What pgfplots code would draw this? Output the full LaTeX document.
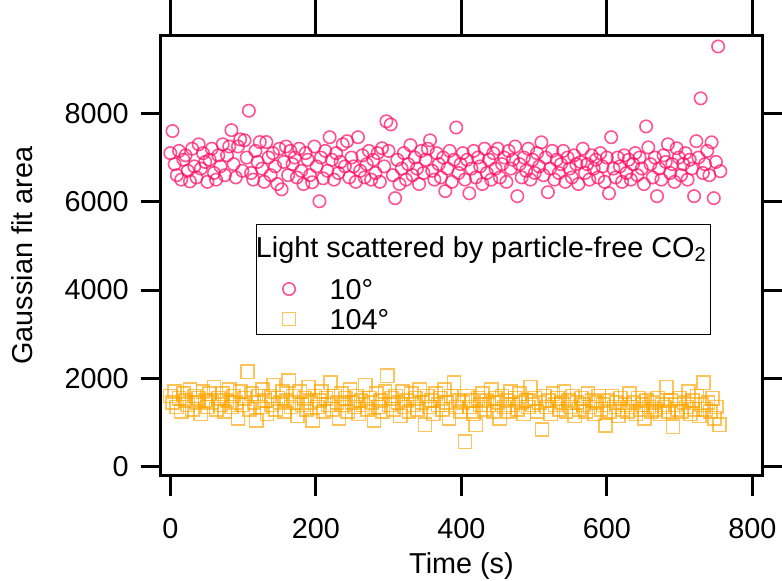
\documentclass[border=0pt]{standalone}
\usepackage{pgfplots}
\pgfplotsset{compat=1.18}
\usepackage{fontspec}
\setmainfont{Liberation Sans}
\definecolor{pinkc}{RGB}{255,10,100}
\definecolor{orangec}{RGB}{255,165,0}
\begin{document}
\fontsize{14.4}{17}\selectfont
\begin{tikzpicture}
\pgfplotsset{
  base/.style={
    scale only axis, width=300.8pt, height=220.3pt,
    at={(0,0)}, anchor=south west,
    xmin=-13.2, xmax=813.7, ymin=-210, ymax=9766,
    xtick={0,200,400,600,800}, ytick={0,2000,4000,6000,8000},
    tick align=outside,
    tick style={line width=1.5pt, black},
    axis line style={line width=1.5pt, line cap=rect},
    /pgf/number format/assume math mode=true,
    /pgf/number format/1000 sep={},
  },
  myleg/.style={legend image code/.code={%
    \draw[##1] plot coordinates {(0pt,0pt)};
    \path (-13pt,0pt) (18pt,0pt);}},
}
\begin{axis}[base,
  xtick pos=top, ytick pos=right, major tick length=20pt,
  xticklabels={}, yticklabels={}]
\end{axis}
\begin{axis}[base,
  xtick pos=bottom, ytick pos=left, major tick length=10pt,
  xticklabel style={yshift=-6pt},
  yticklabel style={xshift=-1pt},
  xlabel={Time (s)}, ylabel={Gaussian fit area},
  xlabel style={at={(axis description cs:0.5,-0.2202)}, anchor=base},
  ylabel style={at={(axis description cs:-0.2304,0.5)}, anchor=center},
  legend style={at={(0.1585,0.5718)}, anchor=north west, draw=black,
    line width=0.5pt, row sep=4.5pt, inner ysep=2.5pt,
    nodes={inner ysep=0pt, text depth=0pt, text height=10.5pt}},
  legend cell align=left,
]
\addlegendimage{empty legend}
\addlegendentry[text height=14pt, text depth=6pt]{\hspace{-36.8pt}Light scattered by particle-free CO\textsubscript{2}\kern-3pt}
\addplot[only marks, mark=o, mark size=3.1pt, draw=pinkc, draw opacity=0.7,
  mark options={line width=0.8pt}, myleg] coordinates {
(0,7100) (3,7600) (6,6850) (9,6600) (12,7150) (15,6500) (18,6950) (21,7050) (24,6700) (27,6460)
(30,7200) (33,6800) (36,6550) (39,7300) (42,6750) (45,7100) (48,6900) (51,6450) (54,6950) (57,7200)
(60,6650) (63,6500) (66,7050) (69,6800) (72,7300) (75,6600) (78,7050) (81,7250) (84,7620) (87,6850)
(90,6550) (93,7250) (96,7410) (99,6700) (102,7390) (105,7000) (108,8060) (111,6650) (114,6500) (117,7150)
(120,6900) (123,7350) (126,6750) (129,6450) (132,7350) (135,7000) (138,6600) (141,7100) (144,6800) (147,6400)
(150,7200) (153,6280) (156,6900) (159,7250) (162,6600) (165,7150) (168,6850) (171,7000) (174,6550) (177,7200)
(180,6700) (183,6400) (186,7100) (189,6950) (192,6600) (195,6440) (198,7250) (201,6800) (205,6010) (207,7000)
(210,6530) (213,7150) (216,6700) (219,7460) (222,6950) (225,6500) (228,7100) (231,6650) (234,6900) (237,7300)
(240,6800) (243,7370) (246,6550) (249,7000) (252,6800) (255,6450) (258,7460) (261,6700) (264,7050) (267,6550)
(270,6850) (273,7150) (276,6500) (279,6950) (282,6650) (285,7100) (288,6450) (291,7210) (294,6800) (297,7820)
(300,7150) (303,7750) (306,6600) (309,6080) (312,6950) (315,6400) (318,6750) (321,7100) (324,6500) (327,6850)
(330,7280) (333,6600) (336,7000) (339,6750) (342,6400) (345,7150) (348,6650) (351,6950) (354,7200) (357,7390)
(360,6700) (363,6500) (366,7100) (369,6850) (372,6550) (375,7000) (378,6240) (381,6750) (384,7150) (387,6450)
(390,6950) (393,7680) (396,6650) (399,6850) (402,7100) (405,6500) (408,6950) (411,6190) (414,6750) (417,7150)
(420,6550) (423,7000) (426,6800) (429,6400) (432,7200) (435,6650) (438,6950) (441,6500) (444,7100) (447,6750)
(450,7200) (453,6550) (456,6850) (459,7000) (462,6450) (465,7150) (468,6750) (471,6950) (474,7250) (477,6125)
(480,6850) (483,6550) (486,7000) (489,6700) (492,7200) (495,6500) (498,6950) (501,6650) (504,7100) (507,6800)
(510,7345) (513,6600) (516,7000) (519,6215) (522,6750) (525,7150) (528,6500) (531,6950) (534,6650) (537,6850)
(540,7150) (543,6450) (546,7000) (549,6750) (552,6550) (555,7050) (558,6850) (561,6400) (564,6900) (567,7200)
(570,6650) (573,6850) (576,6500) (579,7050) (582,6750) (585,6950) (588,6550) (591,7100) (594,6800) (597,6450)
(600,7000) (603,6190) (606,7460) (609,6750) (612,6550) (615,7000) (618,6800) (621,6450) (624,7050) (627,6650)
(630,6950) (633,6500) (636,6850) (639,7100) (642,6600) (645,7000) (648,6750) (651,6400) (654,7705) (657,7230)
(660,6850) (663,6550) (666,7000) (669,6125) (672,6750) (675,6500) (678,7050) (681,6900) (684,7300) (687,6650)
(690,6850) (693,6450) (696,7210) (699,7000) (702,6600) (705,6850) (708,7100) (711,6500) (714,6950) (717,6750)
(720,6125) (723,7370) (726,7000) (729,8340) (732,6650) (735,6850) (738,7150) (741,6600) (744,7345) (747,6080)
(750,6900) (753,9515) (756,6690)
};
\addlegendentry{10°}
\addplot[only marks, mark=square, mark size=3.3pt, draw=orangec, draw opacity=0.65,
  mark options={line width=0.8pt}, myleg] coordinates {
(0,1600) (3,1450) (6,1700) (9,1350) (12,1550) (15,1250) (18,1650) (21,1500) (24,1400) (27,1750)
(30,1300) (33,1600) (36,1450) (39,1550) (42,1200) (45,1700) (48,1500) (51,1350) (54,1650) (57,1450)
(60,1800) (63,1300) (66,1550) (69,1400) (72,1650) (75,1250) (78,1500) (81,1750) (84,1350) (87,1600)
(90,1450) (93,1100) (96,1700) (99,1400) (102,1550) (106,2150) (109,1300) (112,1650) (115,1450) (118,1050)
(121,1600) (124,1350) (127,1750) (130,1500) (133,1200) (136,1600) (139,1400) (142,1850) (145,1300) (148,1550)
(151,1450) (154,1700) (157,1250) (160,1500) (163,1950) (166,1350) (169,1600) (172,1450) (175,1150) (178,1700)
(181,1400) (184,1550) (187,1300) (190,1800) (193,1450) (196,1050) (199,1600) (202,1350) (205,1500) (208,1700)
(211,1250) (214,1550) (217,1400) (220,1900) (223,1300) (226,1600) (229,1450) (232,1100) (235,1650) (238,1400)
(241,1550) (244,1250) (247,1750) (250,1450) (253,1350) (256,1600) (259,1200) (262,1500) (265,1400) (268,1850)
(271,1300) (274,1550) (277,1450) (280,1050) (283,1650) (286,1350) (289,1500) (292,1250) (295,1700) (298,2060)
(301,1400) (304,1550) (307,1300) (310,1600) (313,1450) (316,1150) (319,1700) (322,1350) (325,1500) (328,1250)
(331,1650) (334,1400) (337,1550) (340,1300) (343,1750) (346,1450) (350,950) (353,1600) (356,1350) (359,1500)
(362,1200) (365,1650) (368,1400) (371,1550) (374,1300) (377,1750) (380,1450) (383,1100) (386,1600) (390,1900)
(393,1350) (396,1500) (399,1250) (402,1450) (405,565) (408,1600) (411,1350) (414,1500) (417,1200) (420,950)
(423,1550) (426,1400) (429,1650) (432,1300) (435,1500) (438,1400) (441,1750) (444,1250) (447,1550) (450,1450)
(453,1100) (456,1600) (459,1350) (462,1500) (465,1250) (468,1700) (471,1400) (474,1550) (477,1300) (480,1650)
(483,1450) (486,1200) (489,1500) (492,1350) (495,1800) (498,1400) (501,1550) (504,1250) (507,1450) (511,840)
(514,1600) (517,1350) (520,1500) (523,1200) (526,1650) (529,1400) (532,1550) (535,1300) (538,1450) (541,1700)
(544,1250) (547,1500) (550,1350) (553,1600) (556,1150) (559,1450) (562,1300) (565,1550) (568,1400) (571,1250)
(574,1650) (577,1350) (580,1500) (583,1200) (586,1450) (589,1600) (592,1300) (595,1400) (598,930) (601,1500)
(604,1250) (607,1600) (610,1350) (613,1450) (616,1150) (619,1550) (622,1300) (625,1400) (628,1250) (631,1650)
(634,1350) (637,1450) (640,1200) (643,1550) (646,1300) (649,1400) (652,1100) (655,1500) (658,1350) (661,1250)
(664,1450) (667,1300) (670,1550) (673,1200) (676,1400) (679,1350) (682,1800) (685,1250) (688,1500) (691,905)
(694,1400) (697,1300) (700,1550) (703,1250) (706,1450) (709,1350) (712,1700) (715,1200) (718,1500) (721,1300)
(724,1600) (727,1150) (730,1400) (733,1900) (736,1300) (739,1450) (742,1250) (745,1550) (748,1100) (751,1350)
(755,950)
};
\addlegendentry{104°}
\end{axis}
\pgfresetboundingbox
\useasboundingbox (-80.35pt,-52.5pt) rectangle (310.65pt,238pt);
\end{tikzpicture}
\end{document}
